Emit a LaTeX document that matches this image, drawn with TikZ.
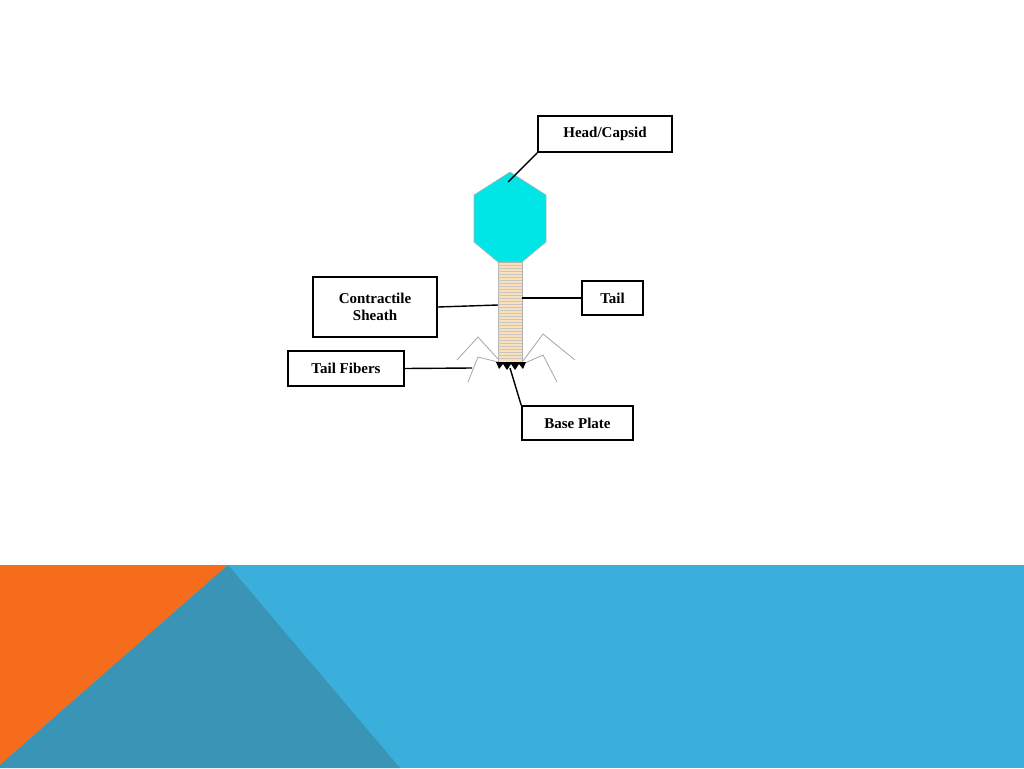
\documentclass[tikz,border=0pt]{standalone}
\usepackage{fontspec}
\setmainfont{Liberation Serif}
\begin{document}
\begin{tikzpicture}[x=1pt,y=-1pt,
 lbl/.style={draw,line width=1.6pt,fill=white,inner sep=0pt,align=center,font=\fontsize{15}{17}\selectfont\bfseries},
 lead/.style={line width=1.4pt},
 fib/.style={draw=gray!70,line width=0.8pt}]
\useasboundingbox (0,0) rectangle (1024,768);
\fill[white] (0,0) rectangle (1024,768);
\fill[fill={rgb,255:red,58;green,175;blue,220}] (0,565) rectangle (1024,768);
\fill[fill={rgb,255:red,246;green,108;blue,29}] (0,565) -- (228,565) -- (0,765) -- cycle;
\fill[fill={rgb,255:red,57;green,148;blue,182}] (228,565) -- (400,768) -- (0,768) -- (0,765) -- cycle;
% head
\filldraw[fill={rgb,255:red,0;green,230;blue,230},draw=gray!60,line width=0.6pt] (510,172) -- (546,195) -- (546,242) -- (522,262) -- (498,262) -- (474,242) -- (474,195) -- cycle;
% tail
\filldraw[fill={rgb,255:red,250;green,225;blue,185},draw=gray!60,line width=0.5pt] (498,262) rectangle (522,362);
\foreach \y in {265,268,...,360} \draw[gray!45,line width=0.3pt] (498,\y) -- (522,\y);
% fibers
\draw[fib] (457,360) -- (478,337) -- (498,359);
\draw[fib] (468,382) -- (478,357) -- (498,362);
\draw[fib] (523,361) -- (543,334) -- (575,360);
\draw[fib] (525,363) -- (543,355) -- (557,382);
% base plate
\fill[black] (496,362) -- (526,362) -- (523,369) -- (519,364) -- (515,370) -- (511,364) -- (507,370) -- (503,364) -- (499,369) -- cycle;
\coordinate (hp) at (508,182);
\coordinate (sp) at (498,305);
\coordinate (tp) at (522,298);
\coordinate (fp) at (472,368);
\coordinate (bp) at (510,368);
\node[lbl,minimum width=134pt,minimum height=36pt] (head) at (605,134) {Head/Capsid};
\node[lbl,minimum width=124pt,minimum height=60pt] (sheath) at (375,307) {Contractile\\Sheath};
\node[lbl,minimum width=61pt,minimum height=34pt] (tail) at (612.5,298) {Tail};
\node[lbl,minimum width=116pt,minimum height=35pt] (fibers) at (346,368.5) {Tail Fibers};
\node[lbl,minimum width=111pt,minimum height=34pt] (base) at (577.5,423) {Base Plate};
\draw[lead] (head.south west) -- (hp);
\draw[lead] (sheath.east) -- (sp);
\draw[lead] (tail.west) -- (tp);
\draw[lead] (fibers.east) -- (fp);
\draw[lead] (base.north west) -- (bp);
\end{tikzpicture}
\end{document}
